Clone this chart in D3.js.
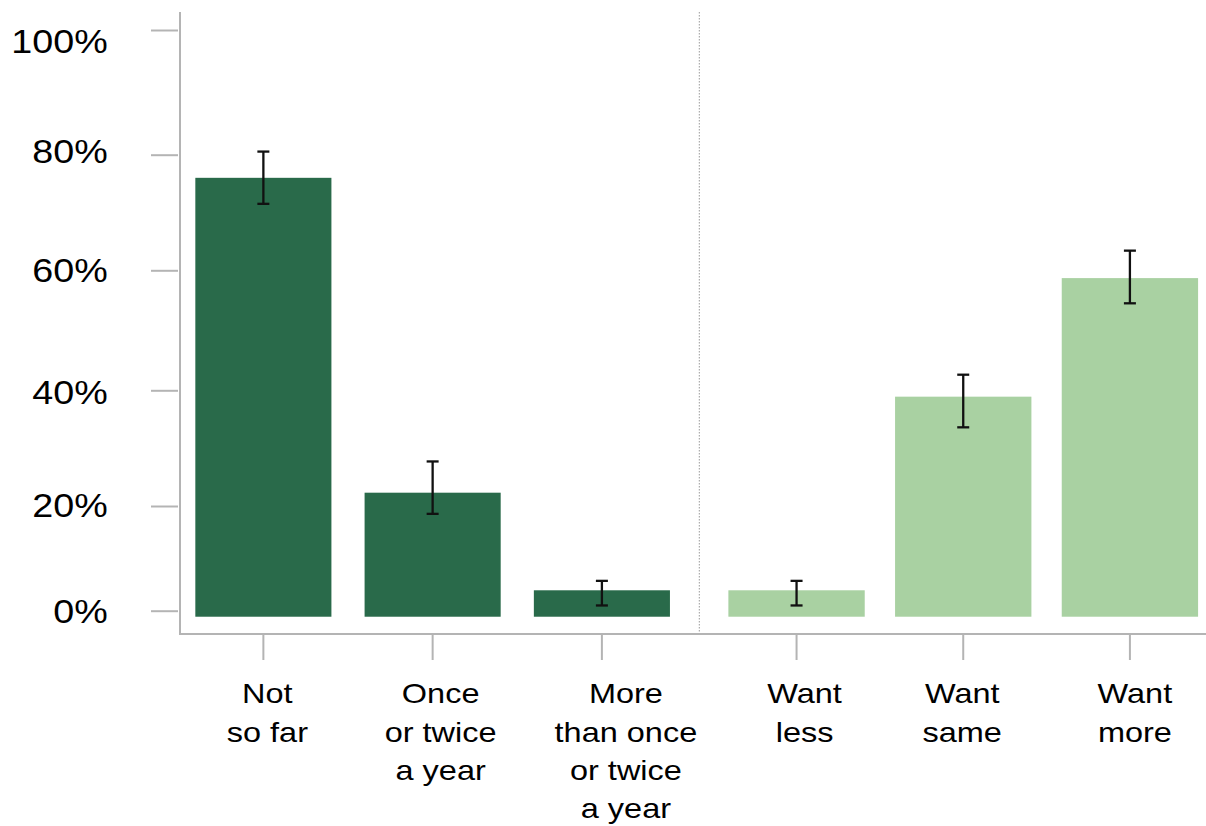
<!DOCTYPE html>
<html>
<head>
<meta charset="utf-8">
<script src="https://cdn.jsdelivr.net/npm/d3@7"></script>
<style>
  html, body { margin: 0; padding: 0; background: #ffffff; }
  svg { display: block; }
</style>
</head>
<body>
<svg id="chart" width="1206" height="826"></svg>
<script>
// ---- data ----
const leftCategories = ["Not so far", "Once or twice a year", "More than once or twice a year"];
const rightCategories = ["Want less", "Want same", "Want more"];
const labelLines = {
  "Not so far": ["Not", "so far"],
  "Once or twice a year": ["Once", "or twice", "a year"],
  "More than once or twice a year": ["More", "than once", "or twice", "a year"],
  "Want less": ["Want", "less"],
  "Want same": ["Want", "same"],
  "Want more": ["Want", "more"]
};
const leftValues = [76.0, 22.3, 3.9];
const leftLower = [71.5, 18.5, 1.0];
const leftUpper = [80.5, 27.7, 5.7];
const rightValues = [3.9, 38.9, 58.7];
const rightLower = [1.0, 33.6, 54.5];
const rightUpper = [5.7, 42.6, 63.4];
const yTicks = [0, 20, 40, 60, 80, 100];

// ---- layout / style ----
const W = 1206, H = 826;
const axisX = 180, axisY = 634, axisTop = 12, sepX = 699.3;
// the reference axis is drawn with slightly uneven tick spacing; map ticks to where they sit
const yTickPos = [610.7, 506, 390.3, 270.3, 154.7, 30];
const yLabelNudge = [0, -1, 1.5, -1, -3.5, 11];
const barFloor = -1.15;        // bars start slightly below zero in the reference
const darkGreen = "#296a4a", lightGreen = "#a9d1a2";
const axisColor = "#b4b4b4";
const fontFamily = "'Liberation Sans', Arial, Helvetica, sans-serif";
const textStretch = 1.16;
const labelDx = [4, 8, 24, 8, -1, 5];

const svg = d3.select("#chart");
svg.append("rect").attr("width", W).attr("height", H).attr("fill", "#fff");

const y = d3.scaleLinear().domain(yTicks).range(yTickPos);

const xLeft = d3.scaleBand().domain(leftCategories).range([axisX, sepX])
  .paddingInner(0.196).paddingOuter(0.132).align(0.343);
const xRight = d3.scaleBand().domain(rightCategories).range([sepX, W])
  .paddingInner(0.182).paddingOuter(0.111).align(0.786);

const rows = [
  ...leftCategories.map((c, i) => ({cat: c, v: leftValues[i], lo: leftLower[i], hi: leftUpper[i], x: xLeft, color: darkGreen})),
  ...rightCategories.map((c, i) => ({cat: c, v: rightValues[i], lo: rightLower[i], hi: rightUpper[i], x: xRight, color: lightGreen}))
];
rows.forEach(r => { r.cx = r.x(r.cat) + r.x.bandwidth() / 2; });

// bars
svg.append("g").selectAll("rect").data(rows).join("rect")
  .attr("x", d => d.x(d.cat))
  .attr("width", d => d.x.bandwidth())
  .attr("y", d => y(d.v))
  .attr("height", d => y(barFloor) - y(d.v))
  .attr("fill", d => d.color);

// error bars
const eb = svg.append("g").attr("stroke", "#111").attr("stroke-width", 2.3).attr("fill", "none");
eb.selectAll("line.v").data(rows).join("line").attr("class", "v")
  .attr("x1", d => d.cx).attr("x2", d => d.cx)
  .attr("y1", d => y(d.lo)).attr("y2", d => y(d.hi));
eb.selectAll("line.t").data(rows).join("line").attr("class", "t")
  .attr("x1", d => d.cx - 6).attr("x2", d => d.cx + 6)
  .attr("y1", d => y(d.hi)).attr("y2", d => y(d.hi));
eb.selectAll("line.b").data(rows).join("line").attr("class", "b")
  .attr("x1", d => d.cx - 6).attr("x2", d => d.cx + 6)
  .attr("y1", d => y(d.lo)).attr("y2", d => y(d.lo));

// separator
svg.append("line")
  .attr("x1", sepX).attr("x2", sepX).attr("y1", axisTop).attr("y2", axisY)
  .attr("stroke", "#9a9a9a").attr("stroke-width", 1).attr("stroke-dasharray", "1.5,1.5");

// y axis
const yAxis = d3.axisLeft(y).tickValues(yTicks).tickFormat(d => d + "%").tickSize(29);
const gy = svg.append("g").attr("transform", `translate(${axisX},0)`).call(yAxis);
gy.select(".domain").remove();
gy.selectAll(".tick line").attr("x1", -29).attr("x2", -2)
  .attr("stroke", axisColor).attr("stroke-width", 2);
gy.selectAll(".tick text")
  .attr("x", 0).attr("y", 0)
  .attr("transform", (d, i) => `translate(-72.3,${yLabelNudge[i]}) scale(${textStretch},1)`)
  .attr("font-family", fontFamily).attr("font-size", 32.5)
  .attr("fill", "#000").attr("dy", "0.36em");
svg.append("line").attr("x1", axisX).attr("x2", axisX).attr("y1", axisTop).attr("y2", axisY + 1)
  .attr("stroke", axisColor).attr("stroke-width", 2);

// x axis
svg.append("line").attr("x1", axisX).attr("x2", W).attr("y1", axisY).attr("y2", axisY)
  .attr("stroke", axisColor).attr("stroke-width", 2);
svg.append("g").selectAll("line").data(rows).join("line")
  .attr("x1", d => d.cx).attr("x2", d => d.cx)
  .attr("y1", axisY).attr("y2", axisY + 26)
  .attr("stroke", axisColor).attr("stroke-width", 2);

const lab = svg.append("g").attr("font-family", fontFamily).attr("font-size", 28)
  .attr("fill", "#000").attr("text-anchor", "middle");
lab.selectAll("g").data(rows).join("g")
  .attr("transform", (d, i) => `translate(${d.cx + labelDx[i]},703.3) scale(${textStretch},1)`)
  .append("text")
  .each(function(d) {
    const t = d3.select(this);
    labelLines[d.cat].forEach((line, k) => {
      t.append("tspan").attr("x", 0).attr("dy", k === 0 ? 0 : 38.4).text(line);
    });
  });
</script>
</body>
</html>
